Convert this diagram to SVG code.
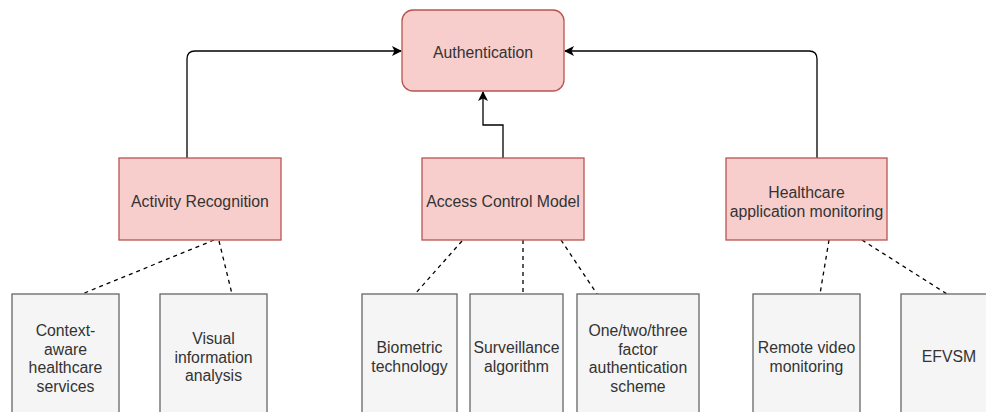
<svg xmlns="http://www.w3.org/2000/svg" width="986" height="412" viewBox="0 0 986 412">
<style>
.main{fill:#f8cecc;stroke:#b85450;stroke-width:1.3}
.leaf{fill:#f5f5f5;stroke:#666666;stroke-width:1.3}
text{font-family:"Liberation Sans",Arial,sans-serif;font-size:15.8px;fill:#333333;text-anchor:middle}
.solid{fill:none;stroke:#000;stroke-width:1.3}
.dash{fill:none;stroke:#000;stroke-width:1.3;stroke-dasharray:4 4}
</style>
<defs>
<marker id="arr" viewBox="0 0 10 10" refX="9" refY="5" markerWidth="10" markerHeight="10" markerUnits="userSpaceOnUse" orient="auto">
<path d="M0,0 L10,5 L0,10 L2.5,5 Z" fill="#000"/>
</marker>
</defs>
<rect width="986" height="412" fill="#fff"/>
<g id="connectors">
<path class="solid" d="M187,158 V59 Q187,51 195,51 H401" marker-end="url(#arr)"/>
<path class="solid" d="M817,158 V59 Q817,51 809,51 H565" marker-end="url(#arr)"/>
<path class="solid" d="M503,158 V125 H483 V92" marker-end="url(#arr)"/>
<path class="dash" d="M214,240 L82,294"/>
<path class="dash" d="M219,241 L232,294"/>
<path class="dash" d="M462,241 L415,294"/>
<path class="dash" d="M523,240 L523,294"/>
<path class="dash" d="M561,240 L597,294"/>
<path class="dash" d="M829,240 L820,294"/>
<path class="dash" d="M862,240 L947,294"/>
</g>
<g id="authentication">
<rect class="main" x="402" y="10" width="162" height="81" rx="11"/>
<text x="483" y="58">Authentication</text>
</g>
<g id="activity-recognition">
<rect class="main" x="119" y="158" width="162" height="82"/>
<text x="200" y="207">Activity Recognition</text>
</g>
<g id="access-control-model">
<rect class="main" x="422" y="158" width="162" height="82"/>
<text x="503" y="207">Access Control Model</text>
</g>
<g id="healthcare-app-monitoring">
<rect class="main" x="726" y="158" width="161" height="82"/>
<text x="806.5" y="198">Healthcare</text>
<text x="806.5" y="217">application monitoring</text>
</g>
<g id="context-aware">
<rect class="leaf" x="12" y="294" width="107" height="130"/>
<text x="65.5" y="336">Context-</text>
<text x="65.5" y="355">aware</text>
<text x="65.5" y="373">healthcare</text>
<text x="65.5" y="392">services</text>
</g>
<g id="visual-information">
<rect class="leaf" x="160" y="294" width="107" height="130"/>
<text x="213.5" y="344">Visual</text>
<text x="213.5" y="363">information</text>
<text x="213.5" y="381">analysis</text>
</g>
<g id="biometric">
<rect class="leaf" x="362" y="294" width="95" height="130"/>
<text x="409.5" y="353">Biometric</text>
<text x="409.5" y="372">technology</text>
</g>
<g id="surveillance">
<rect class="leaf" x="470" y="294" width="93" height="130"/>
<text x="516.5" y="353">Surveillance</text>
<text x="516.5" y="372">algorithm</text>
</g>
<g id="factor-auth">
<rect class="leaf" x="577" y="294" width="122" height="130"/>
<text x="638" y="336">One/two/three</text>
<text x="638" y="355">factor</text>
<text x="638" y="373">authentication</text>
<text x="638" y="392">scheme</text>
</g>
<g id="remote-video">
<rect class="leaf" x="753" y="294" width="107" height="130"/>
<text x="806.5" y="353">Remote video</text>
<text x="806.5" y="372">monitoring</text>
</g>
<g id="efvsm">
<rect class="leaf" x="901" y="294" width="96" height="130"/>
<text x="949" y="362">EFVSM</text>
</g>
</svg>
